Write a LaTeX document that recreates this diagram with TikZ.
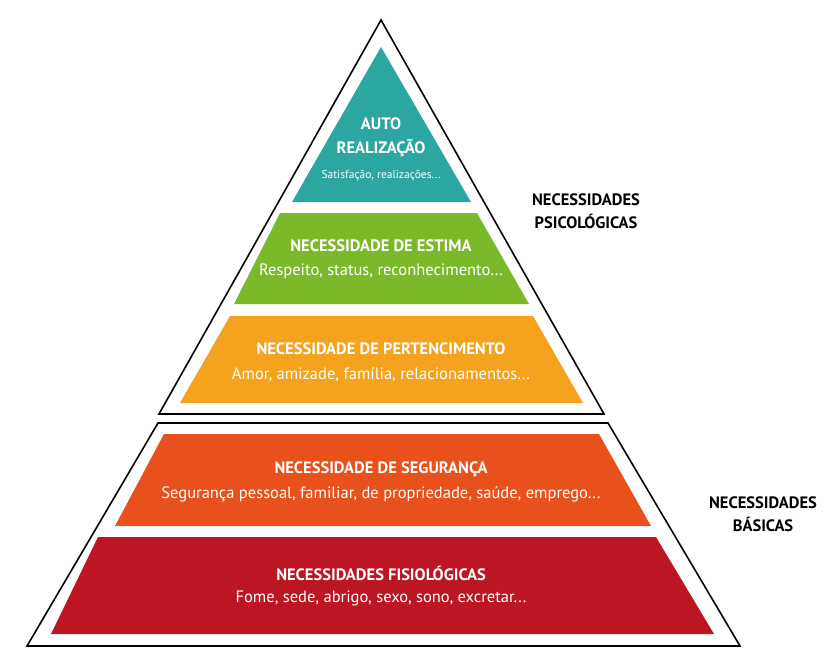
\documentclass[tikz,border=0pt]{standalone}
\usepackage{fontspec}
\setmainfont{PT Sans}
\begin{document}
\begin{tikzpicture}[x=1pt,y=-1pt,
  outl/.style={draw=black,line width=1.6pt,fill=white,line join=miter},
  ttl/.style={text=white,font=\fontsize{16.5}{24}\selectfont\bfseries,align=center},
  sub/.style={text=white,font=\fontsize{16.5}{20}\selectfont},
  side/.style={text=black,font=\fontsize{16.5}{23}\selectfont\bfseries,align=center}]
\useasboundingbox (0,0) rectangle (840,669);
\definecolor{cteal}{HTML}{2BA6A0}
\definecolor{cgreen}{HTML}{7AB929}
\definecolor{corange}{HTML}{F5A21F}
\definecolor{cseg}{HTML}{E8501C}
\definecolor{cred}{HTML}{BC1622}
% outlines
\draw[outl] (381,20) -- (604,414) -- (159,414) -- cycle;
\draw[outl] (158,423) -- (608,423) -- (740,646) -- (27,646) -- cycle;
% bands
\fill[cteal] (381,47) -- (471,202) -- (292,202) -- cycle;
\fill[cgreen] (280,213) -- (477,213) -- (529,304) -- (234,304) -- cycle;
\fill[corange] (230,316) -- (533,316) -- (583,403) -- (180,403) -- cycle;
\fill[cseg] (164,434) -- (599,434) -- (651,526) -- (115,526) -- cycle;
\fill[cred] (98,537) -- (656,537) -- (714,634) -- (51,634) -- cycle;
% texts
\node[ttl] (t1) at (381,137) {AUTO\\REALIZAÇÃO};
\node[sub,font=\fontsize{11.5}{13}\selectfont] (s1) at (381,176) {Satisfação, realizações...};
\node[ttl] (t2) at (381,246) {NECESSIDADE DE ESTIMA};
\node[sub] (s2) at (381,271) {Respeito, status, reconhecimento...};
\node[ttl] (t3) at (381,349) {NECESSIDADE DE PERTENCIMENTO};
\node[sub] (s3) at (381,375) {Amor, amizade, família, relacionamentos...};
\node[ttl] (t4) at (381,469) {NECESSIDADE DE SEGURANÇA};
\node[sub] (s4) at (381,494) {Segurança pessoal, familiar, de propriedade, saúde, emprego...};
\node[ttl] (t5) at (381,573) {NECESSIDADES FISIOLÓGICAS};
\node[sub] (s5) at (381,598) {Fome, sede, abrigo, sexo, sono, excretar...};
\node[side] (p) at (586,211) {NECESSIDADES\\PSICOLÓGICAS};
\node[side] (b) at (763,514) {NECESSIDADES\\BÁSICAS};
\end{tikzpicture}
\end{document}
